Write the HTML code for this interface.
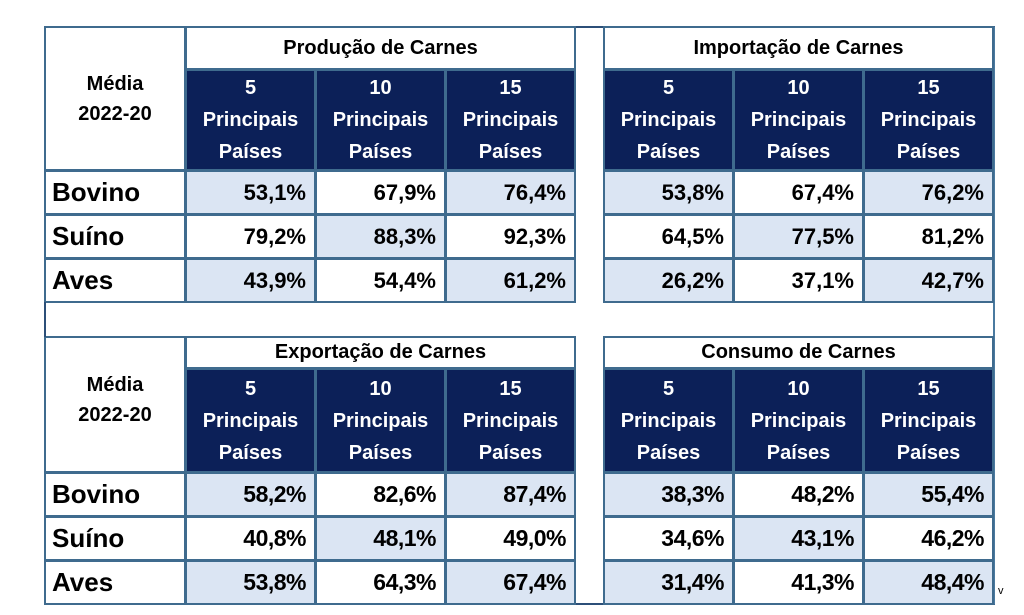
<!DOCTYPE html>
<html><head><meta charset="utf-8">
<style>
body{margin:0;width:1024px;height:615px;background:#fff;position:relative;overflow:hidden;font-family:"Liberation Sans",sans-serif;font-weight:bold}
.c{position:absolute;box-sizing:border-box;border:2px solid #3f6b8e}
.t{position:absolute;display:flex;align-items:center;justify-content:center;text-align:center;color:#000}
.h{background:#0c2058;color:#fff;font-size:20px;line-height:32px;flex-direction:column}
.v{justify-content:flex-end;padding-right:8px;font-size:22px}
.s{background:#dbe5f3}
</style></head><body>
<div id="frame" style="position:absolute;left:44px;top:26px;width:951px;height:579px;border:2px solid #2c4f78;border-right-color:#4a7aa0;box-sizing:border-box"></div>
<div style="position:absolute;left:575px;top:28px;width:28px;height:575px;background:#fff"></div>
<div style="position:absolute;left:998px;top:585px;font-size:11px;font-weight:normal">v</div>
<script>
const titles=["Produção de Carnes","Importação de Carnes","Exportação de Carnes","Consumo de Carnes"];
const rows=["Bovino","Suíno","Aves"];
const cols=["5","10","15"];
const prod=["53,1%","67,9%","76,4%","79,2%","88,3%","92,3%","43,9%","54,4%","61,2%"];
const imp=["53,8%","67,4%","76,2%","64,5%","77,5%","81,2%","26,2%","37,1%","42,7%"];
const exp=["58,2%","82,6%","87,4%","40,8%","48,1%","49,0%","53,8%","64,3%","67,4%"];
const cons=["38,3%","48,2%","55,4%","34,6%","43,1%","46,2%","31,4%","41,3%","48,4%"];
const vals=[prod,imp,exp,cons];
function cell(x,y,w,h,cls,html){
  const d=document.createElement('div');
  d.className='c t '+cls;
  d.style.cssText=`left:${x}px;top:${y}px;width:${w+1}px;height:${h+1}px`;
  d.innerHTML=html;
  document.body.appendChild(d);
  return d;
}
const tops=[{ty:26,th:43,hy:69,hh:101,ry:[170,214,258],rh:44},{ty:336,th:32,hy:368,hh:104,ry:[472,516,560],rh:44}];
const lefts=[185,603];
const cw=130;
for(let q=0;q<4;q++){
  const T=tops[Math.floor(q/2)], L=lefts[q%2];
  const tt=cell(L,T.ty,3*cw,T.th,'','<span>'+titles[q]+'</span>');
  tt.style.fontSize='20px';
  
  
  for(let j=0;j<3;j++){
    const h=cell(L+j*cw,T.hy,cw,T.hh,'h','<div>'+cols[j]+'</div><div>Principais</div><div>Países</div>');
    
    
  }
  for(let i=0;i<3;i++){
    for(let j=0;j<3;j++){
      const shade=((i+j)%2===0);
      const v=cell(L+j*cw,T.ry[i],cw,T.rh,'v'+(shade?' s':''),vals[q][i*3+j]);
      if(q>=2){v.style.fontSize='23px';v.style.letterSpacing='-0.5px';}
      
      
    }
  }
  if(q%2===0){
    const m=cell(44,T.ty,141,T.th+T.hh,'','<div style="font-size:20px;line-height:30px">Média<br>2022-20</div>');
    m.style.alignItems='flex-start';
    m.style.paddingTop=(q===0?'41px':'32px');
    
    
    for(let i=0;i<3;i++){
      const r=cell(44,T.ry[i],141,T.rh,'',rows[i]);
      r.style.justifyContent='flex-start';
      r.style.paddingLeft='6px';
      r.style.fontSize='26px';
      
      
    }
  }
}
const g=document.createElement('div');
g.style.cssText='position:absolute;left:44px;top:302px;width:531px;height:35px;border-left:2px solid #2c4f78;box-sizing:border-box';


document.body.appendChild(g);
</script>
</body></html>
